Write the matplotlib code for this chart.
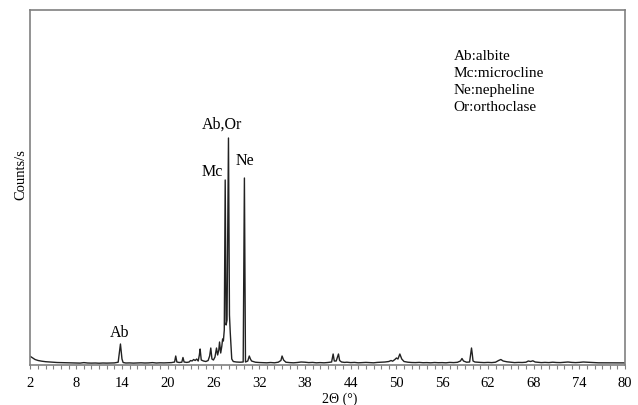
import matplotlib
matplotlib.use("Agg")
import matplotlib.pyplot as plt
import numpy as np

# XRD trace (2theta in degrees, counts/s in arbitrary units)
two_theta = [
    2.0, 2.3, 2.6, 3.0, 3.5, 4.0, 4.5, 5.0, 5.5, 6.0, 6.5, 7.0, 7.5, 8.0, 8.5, 9.0, 9.5,
    10.0, 10.5, 11.0, 11.5, 12.0, 12.5, 13.0, 13.5, 13.65, 13.8, 13.9, 14.0, 14.15, 14.5,
    15.0, 15.5, 16.0, 16.5, 17.0, 17.5, 18.0, 18.5, 19.0, 19.5, 20.0, 20.5, 20.9, 21.05,
    21.2, 21.5, 21.85, 22.0, 22.15, 22.5, 22.8, 23.0, 23.2, 23.4, 23.6, 23.8, 24.0, 24.15,
    24.25, 24.4, 24.7, 25.0, 25.3, 25.5, 25.65, 25.8, 26.0, 26.2, 26.4, 26.55, 26.7, 26.8,
    26.95, 27.1, 27.2, 27.3, 27.42, 27.54, 27.66, 27.78, 27.97, 28.1, 28.2, 28.3, 28.4,
    28.6, 29.0, 29.5, 29.9, 30.06, 30.2, 30.5, 30.7, 30.85, 31.0, 31.5, 32.0, 32.5, 33.0,
    33.5, 34.0, 34.5, 34.85, 35.0, 35.2, 35.5, 36.0, 36.5, 37.0, 37.5, 38.0, 38.5, 39.0,
    39.5, 40.0, 40.5, 41.0, 41.5, 41.7, 41.85, 42.1, 42.4, 42.55, 42.8, 43.2, 43.5, 44.0,
    44.5, 45.0, 45.5, 46.0, 46.5, 47.0, 47.5, 48.0, 48.5, 49.0, 49.3, 49.5, 49.8, 50.0,
    50.2, 50.45, 50.7, 51.0, 51.5, 52.0, 52.5, 53.0, 53.5, 54.0, 54.5, 55.0, 55.5, 56.0,
    56.5, 57.0, 57.5, 58.0, 58.4, 58.6, 58.8, 59.2, 59.6, 59.85, 59.95, 60.05, 60.3, 60.6,
    61.0, 61.5, 62.0, 62.5, 63.0, 63.4, 63.7, 64.0, 64.5, 65.0, 65.5, 66.0, 66.5, 67.0,
    67.3, 67.6, 67.9, 68.2, 68.7, 69.0, 69.5, 70.0, 70.5, 71.0, 71.5, 72.0, 72.5, 73.0,
    73.5, 74.0, 74.5, 75.0, 75.5, 76.0, 76.5, 77.0, 78.0, 79.0, 80.0,
]
counts = [
    85, 70, 55, 45, 38, 33, 30, 27, 25, 24, 22, 23, 20, 21, 19, 24, 20,
    19, 20, 18, 20, 19, 20, 21, 28, 120, 210, 140, 60, 25, 20,
    21, 19, 20, 22, 20, 21, 24, 20, 22, 21, 22, 24, 30, 90,
    30, 25, 28, 75, 30, 26, 30, 45, 40, 55, 45, 60, 40, 100,
    160, 50, 40, 35, 45, 90, 170, 60, 50, 80, 170, 100, 150, 230,
    120, 190, 260, 240, 350, 1850, 400, 450, 2270, 500, 330, 200, 60,
    35, 30, 28, 30, 1870, 30, 40, 90, 60, 40, 28, 25, 24, 22,
    25, 22, 28, 45, 90, 50, 28, 24, 22, 25, 30, 28, 24, 26,
    22, 24, 22, 25, 30, 110, 40, 40, 110, 45, 30, 26, 28, 24,
    26, 22, 24, 26, 24, 22, 26, 28, 30, 35, 45, 38, 55, 70,
    60, 110, 60, 35, 28, 25, 24, 26, 23, 24, 22, 25, 23, 24,
    22, 26, 24, 27, 40, 65, 40, 28, 30, 170, 110, 40, 30, 28,
    26, 24, 26, 24, 28, 45, 55, 40, 32, 28, 24, 26, 25, 28,
    40, 35, 42, 30, 26, 24, 26, 24, 28, 25, 24, 27, 30, 26,
    24, 26, 30, 28, 25, 24, 22, 22, 22, 21, 21,
]

peak_labels = ["Ab", "Mc", "Ab,Or", "Ne"]
peak_pos = [13.75, 25.85, 27.15, 30.1]
peak_text_y = [330, 1940, 2410, 2050]

legend_lines = ["Ab:albite", "Mc:microcline", "Ne:nepheline", "Or:orthoclase"]

plt.rcParams["font.family"] = ["Liberation Serif", "DejaVu Serif"]

fig = plt.figure(figsize=(6.38, 4.06), dpi=100)
ax = fig.add_axes([0.0478, 0.0985, 0.932, 0.8744])

ax.plot(two_theta, counts, color="#222222", lw=1.0)

ax.set_xlim(2, 80)
ax.set_ylim(0, 3550)
ax.set_xticks(np.arange(2, 81, 6))
ax.set_xticks(np.arange(2, 81, 1), minor=True)
ax.set_yticks([])
ax.tick_params(axis="x", which="both", direction="out", length=3, width=0.8,
               color="#808080", labelsize=10.5, pad=5)
for s in ax.spines.values():
    s.set_color("#808080")
    s.set_linewidth(1.2)

ax.set_xlabel("2Θ (°)", fontsize=10, va="center")
ax.xaxis.set_label_coords(0.52, -0.093)
ax.set_ylabel("Counts/s", fontsize=10.5)
ax.yaxis.set_label_coords(-0.006, 0.54)

for lab, x, y in zip(peak_labels, peak_pos, peak_text_y):
    ax.text(x, y, lab, ha="center", va="center", fontsize=11.5)

for i, line in enumerate(legend_lines):
    ax.text(0.712, 0.871 - i * 0.0476, line, transform=ax.transAxes,
            ha="left", va="center", fontsize=11)

fig.savefig("out.png", dpi=100)
